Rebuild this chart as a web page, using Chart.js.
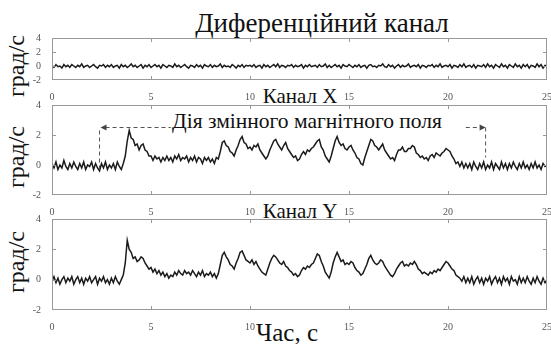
<!DOCTYPE html>
<html>
<head>
<meta charset="utf-8">
<script src="https://cdn.jsdelivr.net/npm/chart.js@4/dist/chart.umd.min.js"></script>
<style>
    body { margin: 0; background: #fff; }
    #wrap { position: relative; width: 551px; height: 344px; overflow: hidden; background: #fff; }
    canvas { position: absolute; left: 0; }
    .txt { position: absolute; font-family: "Liberation Serif", "DejaVu Serif", serif; color: #111; white-space: nowrap; transform: translate(-50%, -50%); }
    .ylab { transform: translate(-50%, -50%) rotate(-90deg); font-size: 24px; }
</style>
</head>
<body>
<div id="wrap">
    <div class="txt" style="left:322px; top:23px; font-size:27px;">Диференційний канал</div>
    <div class="txt" style="left:300px; top:96px; font-size:21px;">Канал X</div>
    <div class="txt" style="left:300px; top:211px; font-size:21px;">Канал Y</div>
    <div class="txt" style="left:307px; top:121px; font-size:21.5px;">Дія змінного магнітного поля</div>
    <div class="txt" style="left:287px; top:333px; font-size:25px;">Час, с</div>
    <div class="txt ylab" style="left:16px; top:66px;">град/с</div>
    <div class="txt ylab" style="left:16px; top:157px;">град/с</div>
    <div class="txt ylab" style="left:16px; top:262px;">град/с</div>

    <canvas id="diffChart" width="551" height="70" style="top:30px"></canvas>
    <canvas id="xChart" width="551" height="118" style="top:97px"></canvas>
    <canvas id="yChart" width="551" height="119" style="top:211px"></canvas>
</div>

<script>
// time step of the records, s
const dt = 0.1;

// x axis 0..25 s, y axis -2..4 deg/s
const xTicks = [0, 5, 10, 15, 20, 25];
const yTicks = [-2, 0, 2, 4];

// ---------------- DATA (one row per second) ----------------

const diffChannel = [
    0.1, -0.2, 0.2, -0.1, 0.0, -0.3, 0.2, -0.1, 0.1, -0.2,
    0.2, 0.0, -0.2, 0.1, -0.1, 0.3, -0.2, 0.0, 0.1, -0.2,
    0.0, 0.2, -0.1, -0.3, 0.1, 0.0, 0.2, -0.2, 0.1, -0.1,
    0.2, -0.2, 0.0, 0.1, -0.3, 0.2, -0.1, 0.1, -0.2, 0.0,
    0.3, -0.1, 0.1, -0.2, 0.0, 0.2, -0.3, 0.1, -0.1, 0.2,
    -0.2, 0.0, 0.2, -0.1, 0.1, -0.3, 0.2, 0.0, -0.2, 0.1,
    0.0, -0.2, 0.3, -0.1, 0.1, -0.2, 0.0, 0.2, -0.1, -0.3,
    0.1, 0.0, -0.2, 0.2, -0.1, 0.1, -0.3, 0.2, 0.0, -0.1,
    0.2, -0.2, 0.1, -0.1, 0.0, 0.3, -0.2, 0.1, -0.1, 0.0,
    -0.2, 0.2, 0.0, -0.3, 0.1, -0.1, 0.2, -0.2, 0.1, 0.0,
    0.1, -0.1, 0.2, -0.2, 0.0, 0.1, -0.3, 0.2, -0.1, 0.1,
    -0.2, 0.0, 0.2, -0.1, 0.3, -0.2, 0.1, 0.0, -0.2, 0.1,
    0.0, 0.2, -0.2, 0.1, -0.1, 0.0, 0.2, -0.3, 0.1, -0.1,
    0.2, -0.1, 0.0, 0.1, -0.2, 0.2, -0.1, 0.0, 0.3, -0.2,
    0.1, -0.2, 0.0, 0.2, -0.1, 0.1, -0.3, 0.2, 0.0, -0.1,
    0.2, 0.0, -0.2, 0.1, -0.1, 0.2, -0.2, 0.0, 0.1, -0.3,
    0.1, 0.2, -0.1, 0.0, -0.2, 0.1, 0.0, 0.3, -0.1, -0.2,
    0.2, -0.1, 0.1, -0.3, 0.0, 0.2, -0.2, 0.1, -0.1, 0.0,
    0.3, -0.2, 0.0, 0.1, -0.1, 0.2, -0.3, 0.1, 0.0, -0.2,
    0.1, 0.0, 0.2, -0.2, 0.1, -0.1, 0.3, -0.2, 0.0, 0.1,
    -0.1, 0.2, -0.3, 0.1, 0.0, -0.2, 0.2, -0.1, 0.3, -0.2,
    0.0, 0.1, -0.2, 0.2, -0.3, 0.1, 0.0, -0.1, 0.2, -0.2,
    0.3, -0.1, 0.1, -0.3, 0.2, 0.0, -0.2, 0.3, -0.1, 0.1,
    -0.3, 0.2, 0.0, -0.2, 0.3, -0.1, 0.1, -0.3, 0.2, -0.1,
    0.2, -0.3, 0.1, 0.0, -0.2, 0.3, -0.1, 0.2, -0.3, 0.1,
    0.0
];

const channelX = [
    0.1, -0.2, 0.2, -0.3, 0.0, -0.2, 0.3, -0.1, -0.3, 0.1,
    -0.2, 0.2, -0.1, -0.3, 0.1, -0.2, 0.2, -0.3, 0.0, -0.1,
    0.2, -0.3, 0.1, -0.2, -0.4, 0.1, -0.2, 0.2, -0.3, 0.0,
    -0.2, 0.1, -0.3, 0.2, -0.1, -0.3, 0.1, 0.6, 1.6, 2.3,
    1.8, 1.7, 1.3, 1.4, 1.0, 1.3, 1.4, 1.0, 0.9, 0.6,
    0.6, 0.3, 0.6, 0.4, 0.5, 0.2, 0.5, 0.3, 0.6, 0.3,
    0.5, 0.2, 0.6, 0.4, 0.7, 0.3, 0.5, 0.4, 0.6, 0.2,
    0.5, 0.3, 0.6, 0.2, 0.5, 0.4, 0.1, 0.5, 0.3, 0.5,
    0.2, 0.4, 0.1, 0.5, 0.4, 0.9, 1.5, 1.6, 1.3, 1.2,
    0.9, 0.8, 0.6, 1.0, 1.3, 1.7, 1.9, 1.5, 1.4, 1.1,
    1.2, 1.0, 1.3, 1.2, 1.4, 1.0, 0.8, 0.6, 0.4, 0.6,
    1.0, 1.3, 1.6, 1.7, 1.4, 1.2, 1.0, 1.3, 1.5, 1.1,
    0.9, 0.7, 0.5, 0.6, 0.3, 0.4, 0.7, 0.9, 0.7, 1.0,
    0.9, 1.1, 1.2, 1.4, 1.6, 1.7, 1.2, 1.0, 0.6, 0.4,
    0.2, 0.6, 1.1, 1.6, 1.9, 1.5, 1.3, 1.4, 1.1, 1.0,
    1.2, 1.3, 1.0, 0.8, 0.5, 0.4, 0.1, 0.0, 0.5, 0.9,
    1.3, 1.7, 1.6, 1.3, 1.2, 1.0, 1.2, 1.4, 1.0, 0.8,
    0.6, 0.4, 0.5, 0.3, 0.7, 1.0, 1.0, 1.2, 0.9, 0.9,
    1.1, 1.1, 1.3, 1.2, 0.8, 0.7, 0.5, 0.6, 0.4, 0.5,
    0.3, 0.6, 0.7, 0.5, 0.8, 0.7, 0.6, 0.8, 0.9, 1.1,
    1.0, 0.9, 0.6, 0.4, 0.1, 0.2, -0.1, 0.2, -0.2, 0.1,
    -0.2, 0.1, -0.3, 0.2, -0.1, -0.3, 0.1, -0.2, 0.2, -0.3,
    0.0, -0.2, 0.2, -0.3, 0.1, -0.1, -0.3, 0.2, -0.2, 0.1,
    -0.3, 0.1, -0.2, 0.2, -0.1, -0.3, 0.1, -0.2, 0.2, -0.2,
    0.0, -0.3, 0.1, -0.2, 0.2, -0.2, 0.0, -0.3, 0.1, -0.1,
    0.0
];

const channelY = [
    -0.1, 0.2, -0.2, 0.1, -0.3, 0.0, 0.2, -0.2, 0.1, -0.1,
    0.2, -0.3, 0.0, 0.2, -0.2, 0.1, -0.3, 0.1, -0.1, 0.2,
    -0.2, 0.0, 0.2, -0.3, 0.1, -0.1, 0.2, -0.2, 0.0, -0.3,
    0.1, -0.2, 0.2, -0.1, -0.3, 0.0, 0.3, 1.1, 2.6, 2.0,
    1.8, 1.4, 1.5, 1.2, 1.3, 1.5, 1.4, 1.1, 0.9, 0.7,
    0.8, 0.5, 0.7, 0.4, 0.6, 0.3, 0.5, 0.2, 0.4, 0.1,
    0.3, 0.2, 0.5, 0.3, 0.6, 0.4, 0.3, 0.6, 0.4, 0.5,
    0.3, 0.6, 0.4, 0.2, 0.5, 0.3, 0.6, 0.2, 0.4, 0.3,
    0.5, 0.2, 0.4, 0.1, 0.4, 1.0, 1.6, 1.8, 1.5, 1.3,
    1.0, 0.9, 0.7, 1.1, 1.4, 1.8, 1.9, 1.6, 1.3, 1.2,
    1.1, 1.3, 1.0, 1.2, 0.9, 0.7, 0.5, 0.4, 0.3, 0.7,
    1.1, 1.4, 1.6, 1.5, 1.3, 1.1, 1.0, 1.2, 0.9, 0.8,
    0.6, 0.5, 0.3, 0.4, 0.2, 0.3, 0.6, 0.8, 0.7, 0.9,
    0.8, 1.0, 1.1, 1.4, 1.7, 1.6, 1.2, 0.9, 0.5, 0.3,
    0.1, 0.5, 1.1, 1.5, 1.8, 1.5, 1.2, 1.3, 1.0, 1.1,
    1.0, 1.2, 1.1, 0.8, 0.6, 0.5, 0.3, 0.4, 0.7, 1.0,
    1.4, 1.6, 1.3, 1.1, 1.0, 1.1, 1.3, 1.2, 0.9, 0.7,
    0.5, 0.3, 0.2, 0.4, 0.7, 0.9, 1.1, 1.2, 0.9, 1.0,
    0.9, 1.1, 1.0, 1.2, 1.0, 0.7, 0.6, 0.4, 0.5, 0.4,
    0.3, 0.5, 0.4, 0.6, 0.5, 0.7, 0.6, 0.8, 1.0, 1.2,
    1.1, 0.9, 0.7, 0.6, 0.3, 0.2, 0.1, -0.1, 0.2, -0.2,
    0.1, -0.2, 0.2, -0.3, 0.0, 0.2, -0.2, 0.1, -0.3, 0.1,
    -0.1, 0.2, -0.3, 0.0, 0.2, -0.2, 0.1, -0.3, 0.2, -0.1,
    0.1, -0.3, 0.2, -0.1, 0.0, -0.3, 0.2, -0.2, 0.1, -0.2,
    0.2, -0.1, -0.3, 0.1, -0.2, 0.2, -0.1, -0.3, 0.1, -0.2,
    0.0
];

// field on / off markers on channel X (s, deg/s)
const fieldOn = 2.4;
const fieldOff = 21.9;
const arrowLevel = 2.5;
const leftArrowTail = 6.0;
const rightArrowTail = 20.9;
const leftDrop = -0.3;
const rightDrop = 0.5;

// ---------------- HELPERS ----------------

const tickFont = { family: "'Liberation Serif', serif", size: 10 };
const tickColor = "#555";

function toPoints(values) {
    return values.map((v, i) => ({ x: i * dt, y: v }));
}

// box round the plot with small ticks pointing inside
const framePlugin = {
    id: "frame",
    afterDraw(chart) {
        const { ctx, chartArea: a, scales } = chart;
        ctx.save();
        ctx.strokeStyle = "#999";
        ctx.lineWidth = 1;
        ctx.strokeRect(a.left + 0.5, a.top + 0.5, a.right - a.left - 1, a.bottom - a.top - 1);
        ctx.beginPath();
        xTicks.slice(1, -1).forEach(t => {
            const px = Math.round(scales.x.getPixelForValue(t)) + 0.5;
            ctx.moveTo(px, a.top); ctx.lineTo(px, a.top + 4);
            ctx.moveTo(px, a.bottom); ctx.lineTo(px, a.bottom - 4);
        });
        yTicks.slice(1, -1).forEach(v => {
            const py = Math.round(scales.y.getPixelForValue(v)) + 0.5;
            ctx.moveTo(a.left, py); ctx.lineTo(a.left + 4, py);
            ctx.moveTo(a.right, py); ctx.lineTo(a.right - 4, py);
        });
        ctx.stroke();
        ctx.restore();
    }
};

function arrowHead(ctx, x, y, dir) {
    ctx.beginPath();
    ctx.moveTo(x, y);
    ctx.lineTo(x - dir * 6, y - 3);
    ctx.lineTo(x - dir * 6, y + 3);
    ctx.closePath();
    ctx.fill();
}

// dashed markers of the alternating magnetic field
const fieldPlugin = {
    id: "field",
    afterDatasetsDraw(chart) {
        const { ctx, scales } = chart;
        const x = scales.x, y = scales.y;
        const xOn = x.getPixelForValue(fieldOn);
        const xOff = x.getPixelForValue(fieldOff);
        const yArrow = y.getPixelForValue(arrowLevel);
        ctx.save();
        ctx.strokeStyle = "#555";
        ctx.fillStyle = "#444";
        ctx.lineWidth = 1;
        ctx.setLineDash([4, 3]);
        ctx.beginPath();
        ctx.moveTo(xOn, y.getPixelForValue(leftDrop));
        ctx.lineTo(xOn, yArrow);
        ctx.moveTo(xOn + 6, yArrow);
        ctx.lineTo(x.getPixelForValue(leftArrowTail), yArrow);
        ctx.moveTo(x.getPixelForValue(rightArrowTail), yArrow);
        ctx.lineTo(xOff - 6, yArrow);
        ctx.moveTo(xOff, yArrow);
        ctx.lineTo(xOff, y.getPixelForValue(rightDrop));
        ctx.stroke();
        ctx.setLineDash([]);
        arrowHead(ctx, xOn + 1, yArrow, -1);
        arrowHead(ctx, xOff, yArrow, 1);
        ctx.restore();
    }
};

function makeChart(canvasId, values, plugins) {
    return new Chart(document.getElementById(canvasId), {
        type: "line",
        data: {
            datasets: [{
                data: toPoints(values),
                borderColor: "#1b1b1b",
                borderWidth: 1.5,
                pointRadius: 0,
                tension: 0
            }]
        },
        options: {
            responsive: false,
            animation: false,
            layout: { padding: { left: 12, right: 4, top: 8, bottom: 0 } },
            plugins: { legend: { display: false }, tooltip: { enabled: false } },
            scales: {
                x: {
                    type: "linear",
                    min: 0,
                    max: 25,
                    afterBuildTicks: axis => { axis.ticks = xTicks.map(v => ({ value: v })); },
                    afterFit: axis => { axis.height = 20; axis.paddingLeft = 0; axis.paddingRight = 0; },
                    grid: { display: false },
                    border: { display: false },
                    ticks: { font: tickFont, color: tickColor, padding: 3, maxRotation: 0, autoSkip: false }
                },
                y: {
                    min: -2,
                    max: 4,
                    afterBuildTicks: axis => { axis.ticks = yTicks.map(v => ({ value: v })); },
                    afterFit: axis => { axis.width = 40; axis.paddingTop = 0; axis.paddingBottom = 0; },
                    grid: { display: false },
                    border: { display: false },
                    ticks: { font: tickFont, color: tickColor, padding: 3, autoSkip: false }
                }
            }
        },
        plugins: plugins
    });
}

makeChart("diffChart", diffChannel, [framePlugin]);
makeChart("xChart", channelX, [framePlugin, fieldPlugin]);
makeChart("yChart", channelY, [framePlugin]);
</script>
</body>
</html>
